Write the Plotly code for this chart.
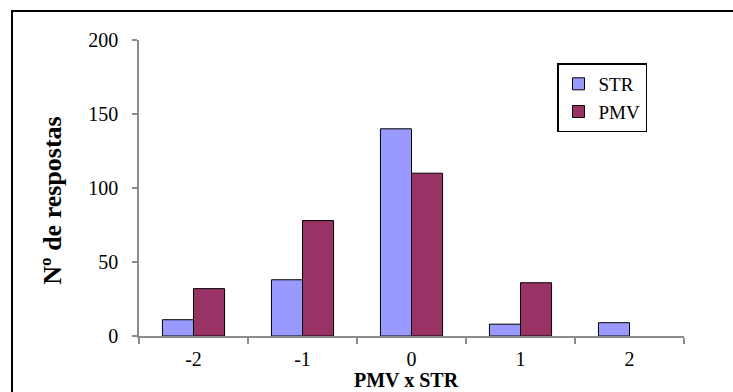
import plotly.graph_objects as go

categories = ["-2", "-1", "0", "1", "2"]
str_values = [11, 38, 140, 8, 9]
pmv_values = [32, 78, 110, 36, 0]
y_ticks = [0, 50, 100, 150, 200]

FONT = '"Liberation Serif", "Times New Roman", serif'
AXIS_GRAY = "#8c8c8c"

def outline_widths(vals):
    return [1 if v else 0 for v in vals]

fig = go.Figure()
fig.add_trace(go.Bar(name="STR", x=categories, y=str_values,
                     marker=dict(color="#9999FF",
                                 line=dict(color="#000000", width=outline_widths(str_values)))))
fig.add_trace(go.Bar(name="PMV", x=categories, y=pmv_values,
                     marker=dict(color="#993366",
                                 line=dict(color="#000000", width=outline_widths(pmv_values)))))

L, R, T, B = 139, 49, 39.5, 56
W, H = 733, 392
pw = W - L - R
ph = H - T - B

def px_x(p):
    return (p - L) / pw

def px_y(p):
    return (H - B - p) / ph

fig.update_layout(
    width=W, height=H,
    margin=dict(l=L, r=R, t=T, b=B, pad=0),
    paper_bgcolor="white", plot_bgcolor="white",
    font=dict(family=FONT, size=20, color="black"),
    barmode="group", bargap=0.43, bargroupgap=0,
    showlegend=True,
    legend=dict(x=px_x(557), y=px_y(63), xanchor="left", yanchor="top",
                bgcolor="white", bordercolor="black", borderwidth=1.5,
                font=dict(family=FONT, size=19, color="black"),
                itemwidth=30, tracegroupgap=0),
    xaxis=dict(type="category", showline=True, linecolor=AXIS_GRAY, linewidth=1.5,
               ticks="outside", tickson="boundaries", ticklen=6, tickcolor=AXIS_GRAY,
               tickwidth=1.5, showgrid=False, zeroline=False,
               tickfont=dict(family=FONT, size=20, color="black"),
               ticklabelstandoff=4),
    yaxis=dict(range=[0, 200], tickvals=y_ticks, showline=True, linecolor=AXIS_GRAY,
               linewidth=1.5, ticks="outside", ticklen=5, tickcolor=AXIS_GRAY, tickwidth=1.5,
               showgrid=False, zeroline=False,
               tickfont=dict(family=FONT, size=20, color="black"),
               ticklabelstandoff=10),
    shapes=[dict(type="rect", xref="paper", yref="paper",
                 x0=px_x(12), x1=px_x(W + 40), y0=px_y(H + 40), y1=px_y(10.5),
                 line=dict(color="black", width=2), fillcolor="rgba(0,0,0,0)", layer="below")],
    annotations=[
        dict(text="<b>PMV x STR</b>", xref="paper", yref="paper",
             x=px_x(406), y=px_y(380), xanchor="center", yanchor="middle",
             showarrow=False, font=dict(family=FONT, size=20, color="black")),
        dict(text="<b>Nº de respostas</b>", xref="paper", yref="paper",
             x=px_x(52.5), y=px_y(201), xanchor="center", yanchor="middle",
             textangle=-90, showarrow=False, font=dict(family=FONT, size=26, color="black")),
    ],
)

fig.write_html("out.html")
